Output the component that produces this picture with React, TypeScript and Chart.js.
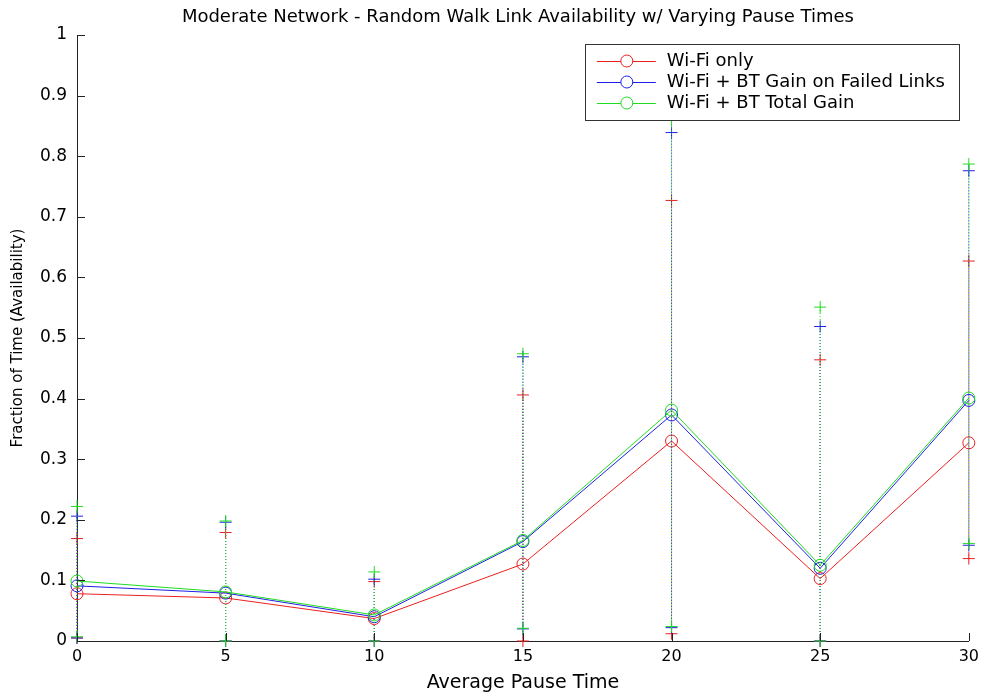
import React, { useEffect, useRef } from 'react';
import { Chart, registerables } from 'chart.js';

Chart.register(...registerables);

// ---- Data ----
const pauseTimes = [0, 5, 10, 15, 20, 25, 30];

const wifiMean = [0.078, 0.071, 0.037, 0.127, 0.330, 0.103, 0.327];
const wifiLow = [0.005, 0.0, 0.0, 0.0, 0.012, 0.0, 0.136];
const wifiHigh = [0.169, 0.179, 0.098, 0.406, 0.727, 0.464, 0.627];

const btFailedMean = [0.091, 0.079, 0.040, 0.164, 0.373, 0.120, 0.397];
const btFailedLow = [0.005, 0.0, 0.0, 0.020, 0.022, 0.0, 0.158];
const btFailedHigh = [0.206, 0.196, 0.102, 0.469, 0.839, 0.519, 0.776];

const btTotalMean = [0.099, 0.081, 0.043, 0.166, 0.381, 0.125, 0.401];
const btTotalLow = [0.007, 0.0, 0.0, 0.021, 0.024, 0.0, 0.161];
const btTotalHigh = [0.222, 0.198, 0.114, 0.474, 0.859, 0.551, 0.787];

const seriesLabels = ['Wi-Fi only', 'Wi-Fi + BT Gain on Failed Links', 'Wi-Fi + BT Total Gain'];
const seriesColors = ['#ec1f1f', '#1f1fe8', '#1fdc1f'];

const chartTitle = 'Moderate Network - Random Walk Link Availability w/ Varying Pause Times';
const xAxisTitle = 'Average Pause Time';
const yAxisTitle = 'Fraction of Time (Availability)';
const xRange = [0, 30];
const xStep = 5;
const yRange = [0, 1];
const yStep = 0.1;

const FONT = '"DejaVu Sans", "Liberation Sans", sans-serif';

export default function App() {
  const ref = useRef<HTMLCanvasElement>(null);

  useEffect(() => {
    const canvas = ref.current;
    if (!canvas) return;
    const means = [wifiMean, btFailedMean, btTotalMean];
    const lows = [wifiLow, btFailedLow, btTotalLow];
    const highs = [wifiHigh, btFailedHigh, btTotalHigh];

    const datasets: any[] = [];
    for (let s = 0; s < 3; s++) {
      const color = seriesColors[s];
      const eb: any[] = [];
      pauseTimes.forEach((x, i) => {
        eb.push({ x, y: lows[s][i] }, { x, y: highs[s][i] }, { x, y: null });
      });
      datasets.push({
        label: seriesLabels[s] + ' error',
        data: eb,
        borderColor: color,
        backgroundColor: 'rgba(0,0,0,0)',
        borderWidth: 1,
        borderDash: [1, 2],
        pointStyle: 'cross',
        pointRadius: 6,
        pointBorderWidth: 1,
        pointBorderColor: color,
        pointBackgroundColor: color,
        spanGaps: false,
        fill: false,
        tension: 0,
        clip: false,
        order: 6 - s * 2,
      });
      datasets.push({
        label: seriesLabels[s],
        data: pauseTimes.map((x, i) => ({ x, y: means[s][i] })),
        borderColor: color,
        backgroundColor: 'rgba(0,0,0,0)',
        borderWidth: 1,
        pointStyle: 'circle',
        pointRadius: 6,
        pointBorderWidth: 1,
        pointBorderColor: color,
        pointBackgroundColor: 'rgba(0,0,0,0)',
        fill: false,
        tension: 0,
        clip: false,
        order: 5 - s * 2,
      });
    }

    const inwardTicks = {
      id: 'inwardTicks',
      afterDraw(chart: any) {
        const { ctx, chartArea: ca } = chart;
        const xs = chart.scales.x;
        const ys = chart.scales.y;
        ctx.save();
        ctx.strokeStyle = '#222';
        ctx.lineWidth = 1;
        ctx.beginPath();
        xs.ticks.forEach((t: any) => {
          const px = Math.round(xs.getPixelForValue(t.value)) + 0.5;
          ctx.moveTo(px, ca.bottom);
          ctx.lineTo(px, ca.bottom - 8);
        });
        ys.ticks.forEach((t: any) => {
          const py = Math.round(ys.getPixelForValue(t.value)) + 0.5;
          ctx.moveTo(ca.left, py);
          ctx.lineTo(ca.left + 8, py);
        });
        ctx.stroke();
        ctx.restore();
      },
    };

    const titlePlugin = {
      id: 'centeredTitle',
      afterDraw(chart: any) {
        const { ctx, chartArea: ca } = chart;
        ctx.save();
        ctx.font = `18px ${FONT}`;
        ctx.fillStyle = '#000';
        ctx.textAlign = 'center';
        ctx.textBaseline = 'middle';
        ctx.fillText(chartTitle, (ca.left + ca.right) / 2 - 5, 17);
        ctx.restore();
      },
    };

    const boxLegend = {
      id: 'boxLegend',
      afterDraw(chart: any) {
        const { ctx, chartArea: ca } = chart;
        ctx.save();
        ctx.font = `18px ${FONT}`;
        let maxW = 0;
        seriesLabels.forEach((l) => {
          maxW = Math.max(maxW, ctx.measureText(l).width);
        });
        const textStart = 82;
        const w = Math.round(textStart + maxW + 14);
        const h = 76;
        const right = ca.right - 10;
        const left = right - w;
        const top = ca.top + 9;
        ctx.fillStyle = '#fff';
        ctx.fillRect(left, top, w, h);
        ctx.strokeStyle = '#333';
        ctx.lineWidth = 1;
        ctx.strokeRect(Math.round(left) + 0.5, Math.round(top) + 0.5, w, h);
        const rows = [17, 38, 59];
        seriesLabels.forEach((l, i) => {
          const cy = top + rows[i];
          ctx.strokeStyle = seriesColors[i];
          ctx.beginPath();
          ctx.moveTo(left + 12, Math.round(cy) + 0.5);
          ctx.lineTo(left + 71, Math.round(cy) + 0.5);
          ctx.stroke();
          ctx.beginPath();
          ctx.arc(left + 42, cy, 6, 0, Math.PI * 2);
          ctx.fillStyle = '#fff';
          ctx.fill();
          ctx.stroke();
          ctx.fillStyle = '#000';
          ctx.textAlign = 'left';
          ctx.textBaseline = 'middle';
          ctx.fillText(l, left + textStart, cy);
        });
        ctx.restore();
      },
    };

    const chart = new Chart(canvas, {
      type: 'line',
      data: { datasets },
      plugins: [inwardTicks, titlePlugin, boxLegend],
      options: {
        responsive: false,
        animation: false,
        events: [],
        layout: { padding: { top: 35, right: 15, left: 0, bottom: 0 } },
        plugins: {
          legend: { display: false },
          title: { display: false },
          tooltip: { enabled: false },
        },
        scales: {
          x: {
            type: 'linear',
            min: xRange[0],
            max: xRange[1],
            ticks: { stepSize: xStep, padding: 6, color: '#000', font: { family: FONT, size: 16 } },
            grid: { display: false, drawTicks: false },
            border: { display: true, color: '#222', width: 1 },
            title: {
              display: true,
              text: xAxisTitle,
              color: '#000',
              font: { family: FONT, size: 19 },
              padding: { top: 0, bottom: 0 },
            },
            afterFit: (s: any) => {
              s.height = 53;
            },
          },
          y: {
            type: 'linear',
            min: yRange[0],
            max: yRange[1],
            ticks: {
              stepSize: yStep,
              padding: 10,
              color: '#000',
              font: { family: FONT, size: 17 },
              callback: (v: any) => String(Number(Number(v).toFixed(1))),
            },
            grid: { display: false, drawTicks: false },
            border: { display: true, color: '#222', width: 1 },
            title: {
              display: true,
              text: yAxisTitle,
              color: '#000',
              font: { family: FONT, size: 15 },
              padding: { top: 9, bottom: 0 },
            },
            afterFit: (s: any) => {
              s.width = 77;
            },
          },
        },
      } as any,
    });
    return () => chart.destroy();
  }, []);

  return (
    <div style={{ position: 'fixed', left: 0, top: 0, width: 985, height: 694, background: '#fff' }}>
      <canvas ref={ref} width={985} height={694} style={{ display: 'block' }} />
    </div>
  );
}
